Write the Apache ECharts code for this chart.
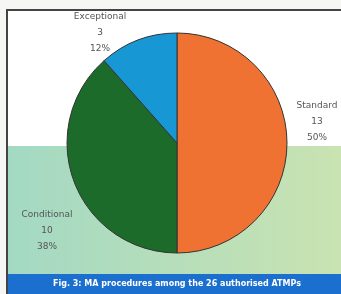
<!DOCTYPE html>
<html>
<head>
<meta charset="utf-8">
<script src="https://cdn.jsdelivr.net/npm/echarts@6/dist/echarts.min.js"></script>
<style>
  html, body { margin: 0; padding: 0; background: #f6f6f4; }
  #chart { width: 341px; height: 294px; }
</style>
</head>
<body>
<div id="chart"></div>
<script>
const procedures = ["Standard", "Conditional", "Exceptional"];
const counts = [13, 10, 3];
const sliceColors = ["#ef7232", "#1c6b2a", "#1897d5"];
const caption = "Fig. 3: MA procedures among the 26 authorised ATMPs";

// where each label block sits (centre, px)
const labelSpots = [[317, 122], [47, 231], [100, 33]];

const chart = echarts.init(document.getElementById("chart"));

const option = {
  animation: false,
  graphic: [
    {
      type: "rect",
      shape: { x: 7, y: 10, width: 400, height: 300 },
      style: { fill: "#ffffff", stroke: "#444444", lineWidth: 2 },
    },
    {
      type: "rect",
      shape: { x: 8, y: 146, width: 340, height: 128 },
      style: {
        fill: new echarts.graphic.LinearGradient(0, 0, 1, 0, [
          { offset: 0, color: "#a3d9c3" },
          { offset: 1, color: "#cae3b1" },
        ]),
      },
    },
    {
      type: "rect",
      shape: { x: 8, y: 274, width: 340, height: 20 },
      style: { fill: "#1b6fcf" },
    },
    {
      type: "text",
      x: 177,
      y: 284,
      style: {
        text: caption,
        fill: "#ffffff",
        font: "bold 8px 'DejaVu Sans'",
        align: "center",
        verticalAlign: "middle",
      },
    },
  ],
  series: [
    {
      type: "pie",
      center: [177, 143],
      radius: 110,
      startAngle: 90,
      percentPrecision: 0,
      data: procedures.map((name, i) => ({
        name: name,
        value: counts[i],
        itemStyle: { color: sliceColors[i] },
      })),
      itemStyle: { borderColor: "#333333", borderWidth: 1 },
      label: {
        position: "outside",
        alignTo: "none",
        overflow: "none",
        formatter: "{b}\n{c}\n{d}%",
        color: "#555555",
        fontFamily: "DejaVu Sans",
        fontSize: 9,
        lineHeight: 16,
        align: "center",
      },
      labelLine: { show: false },
      labelLayout: function (p) {
        const s = labelSpots[p.dataIndex];
        return { x: s[0], y: s[1], align: "center", verticalAlign: "middle", hideOverlap: false };
      },
      emphasis: { disabled: true },
    },
  ],
};

chart.setOption(option);
</script>
</body>
</html>
